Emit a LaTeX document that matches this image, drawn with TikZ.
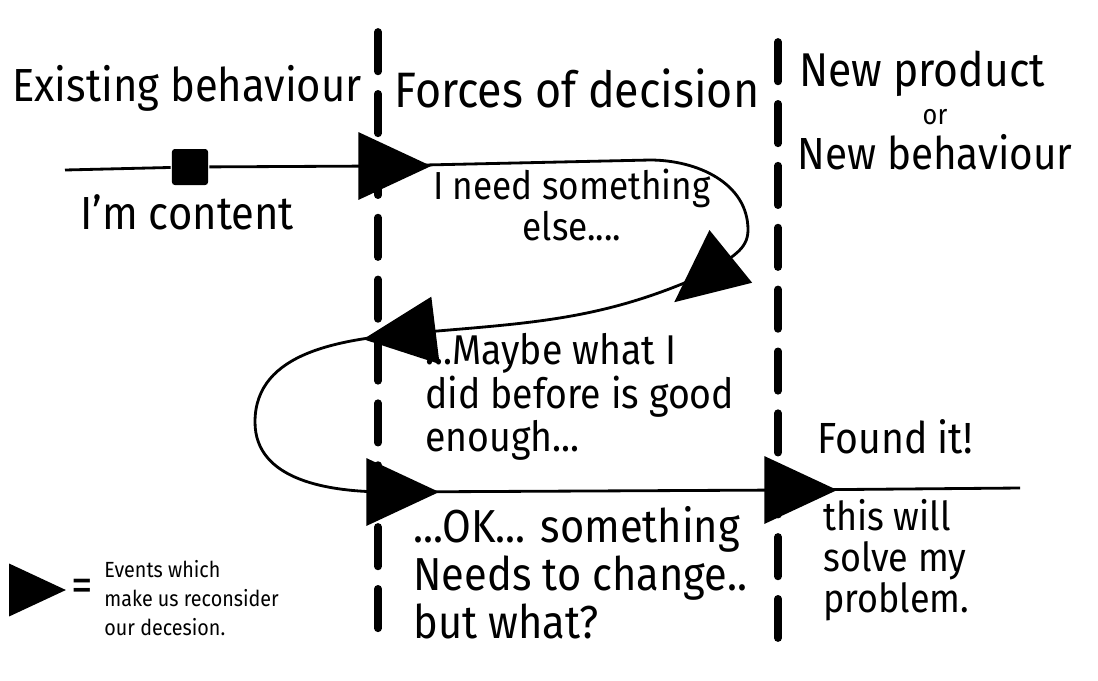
\documentclass[tikz,border=0pt]{standalone}
\usepackage{fontspec}
\setmainfont{Fira Sans}[FakeStretch=0.9]
\usetikzlibrary{shapes.geometric}
\usetikzlibrary{positioning}

\newcommand{\handsize}[2]{\fontsize{#1}{#2}\selectfont\lineskiplimit=-100pt}

\begin{document}
\begin{tikzpicture}[x=0.025cm,y=0.025cm,line width=2pt,
  event node/.style={isosceles triangle,isosceles triangle apex angle=50,fill=black,draw=black,inner sep=0pt,minimum height=1.7cm},
  key node/.style={event node,minimum height=1.3cm},
  now node/.style={rectangle,fill=black,rounded corners=2pt,minimum size=0.9cm,inner sep=0pt},
  heading/.style={font=\handsize{34}{34},inner sep=0pt},
  hand text/.style={font=\handsize{31}{31},align=left,inner sep=0pt},
  key text/.style={font=\handsize{15.6}{20.5},align=left,inner sep=0pt},
  divider/.style={line width=5.5pt,line cap=round,dash pattern=on 28pt off 16pt}]

  \useasboundingbox (0,0) rectangle (1098,-680);

  \coordinate (top1) at (378,-32);
  \coordinate (bot1) at (378,-648);
  \coordinate (top2) at (778,-42);
  \coordinate (bot2) at (778,-638);
  \draw[divider] (top1) -- (bot1);
  \draw[divider] (top2) -- (bot2);

  \node[heading,font=\handsize{33}{34}] (old) at (187,-88) {Existing behaviour};
  \node[heading,font=\handsize{35.4}{34}] (forces) at (577,-88) {Forces of decision};
  \node[heading,font=\handsize{33.7}{34}] (newprod) at (922,-74) {New product};
  \node[heading,font=\handsize{20}{20}] (orword) at (935,-117) {or};
  \node[heading,font=\handsize{32}{34}] (newbeh) at (935,-152) {New behaviour};

  \coordinate (start) at (65,-170);
  \coordinate (turn1) at (650,-160);
  \coordinate (bend1) at (748,-230);
  \coordinate (bend2) at (255,-422);
  \coordinate (end) at (1020,-488);

  \node[now node] (now) at (190,-167) {};
  \node[event node] (e1) at (380,-166) {};
  \node[event node,rotate=219] (e2) at (714,-270) {};
  \node[event node,rotate=187] (e3) at (414,-333) {};
  \node[event node] (e4) at (388,-492) {};
  \node[event node] (e5) at (786,-490) {};

  \draw (start) -- (now) -- (e1.center) -- (turn1) to[out=0,in=90] (bend1) to[out=-90,in=40] (e2.center)
    to[out=205,in=5] (e3.center) to[out=185,in=90] (bend2) to[out=-90,in=180] (e4.center)
    -- (e5.center) -- (end);

  \node[hand text,font=\handsize{33}{31}] (content) at (187,-212) {I'm content};
  \node[hand text,font=\handsize{27.8}{29},align=center] (need) at (572,-205) {I need something\\else....};
  \node[hand text,font=\handsize{29.6}{31},anchor=west] (maybe) at (424,-397) {...Maybe what I\\did before is good\\enough...};
  \node[hand text,font=\handsize{32.9}{34},anchor=west] (okay) at (412,-573) {...OK... something\\Needs to change..\\but what?};
  \node[hand text] (found) at (895,-437) {Found it!};
  \node[hand text,font=\handsize{28.4}{29},anchor=west] (solve) at (822,-560) {this will\\solve my\\problem.};

  \node[key node] (key) at (26,-590) {};
  \node[heading] (equals) [right=3pt of key] {=};
  \node[key text,anchor=west] (meaning) at (103,-598) {Events which\\make us reconsider\\our decesion.};
\end{tikzpicture}
\end{document}
